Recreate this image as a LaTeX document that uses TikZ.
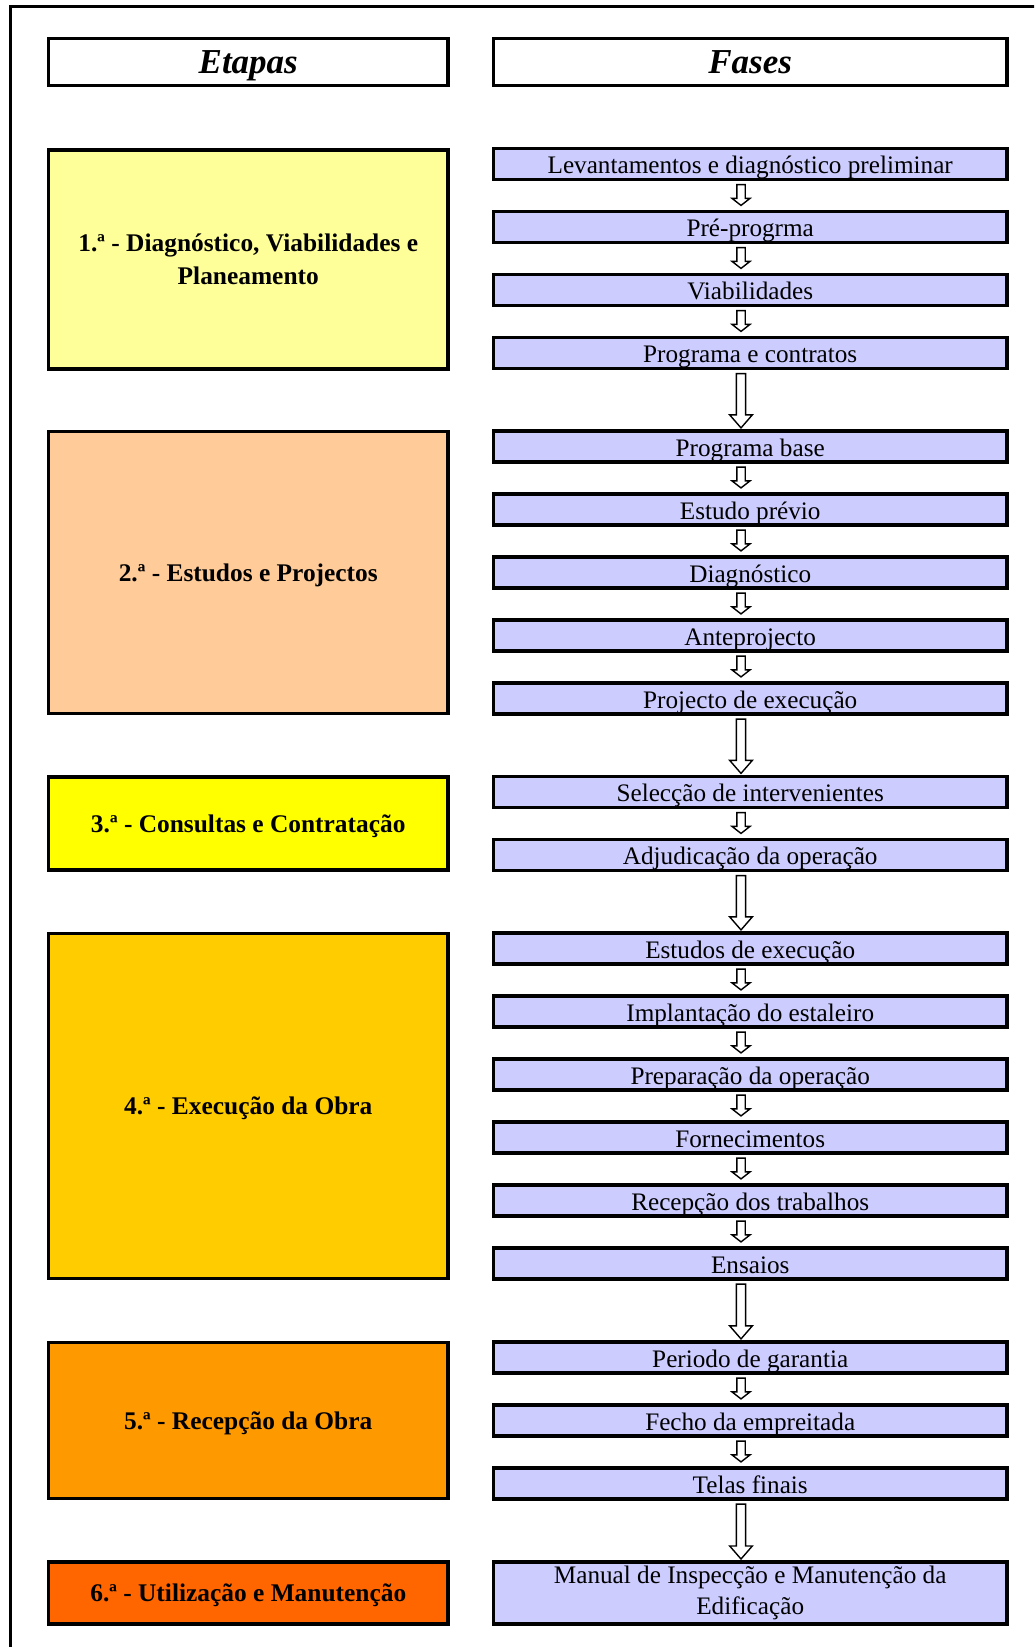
\documentclass[tikz,border=0pt]{standalone}
\usepackage{fontspec}
\setmainfont{Liberation Serif}
\usetikzlibrary{calc}

\definecolor{phasefill}{HTML}{CCCCFF}
\definecolor{stA}{HTML}{FFFF99}
\definecolor{stB}{HTML}{FFCC99}
\definecolor{stC}{HTML}{FFFF00}
\definecolor{stD}{HTML}{FFCC00}
\definecolor{stE}{HTML}{FF9900}
\definecolor{stF}{HTML}{FF6600}

\tikzset{
  phasebox/.style={draw, line width=1.75pt, fill=phasefill, minimum width=256.8pt,
    minimum height=15pt, inner sep=0pt, outer sep=0pt,
    font=\fontsize{12.6pt}{15.6pt}\selectfont, align=center},
  oneline/.style={text height=12.6pt, text depth=3pt},
  stagebox/.style={draw, line width=1.75pt, minimum width=199.75pt, inner sep=0pt,
    outer sep=0pt, font=\bfseries\fontsize{12.7pt}{16.3pt}\selectfont, align=center},
  stageline/.style={text height=11.5pt, text depth=2.8pt},
  headbox/.style={draw, line width=1.75pt, fill=white, minimum height=23.5pt,
    inner sep=0pt, outer sep=0pt, text height=15.6pt, text depth=4pt,
    font=\bfseries\itshape\fontsize{17.5pt}{20pt}\selectfont},
  hollow/.style={draw, line width=0.7pt, fill=white, line join=miter},
}

% hollow block arrow from the bottom of #1 to the top of #2
% #3 centre x, #4 top gap, #5 tip gap, #6 half shaft, #7 half head, #8 head length (px)
\newcommand\flowdown[8]{%
  \draw[hollow] let \p1=(#1.south), \p2=(#2.north) in
    ({(#3-#6)*0.5pt},{\y1-#4*0.5pt}) -- ({(#3+#6)*0.5pt},{\y1-#4*0.5pt})
    -- ({(#3+#6)*0.5pt},{\y2+(#5+#8)*0.5pt}) -- ({(#3+#7)*0.5pt},{\y2+(#5+#8)*0.5pt})
    -- ({#3*0.5pt},{\y2+#5*0.5pt}) -- ({(#3-#7)*0.5pt},{\y2+(#5+#8)*0.5pt})
    -- ({(#3-#6)*0.5pt},{\y2+(#5+#8)*0.5pt}) -- cycle;}
\newcommand\phasedown[2]{\flowdown{#1}{#2}{741}{5}{6}{4.2}{9}{7}}
\newcommand\stagedown[2]{\flowdown{#1}{#2}{741}{5}{3}{4.6}{11.3}{13}}

\begin{document}
\begin{tikzpicture}[x=0.5pt, y=-0.5pt]
\useasboundingbox (0,0) rectangle (1034,1647);
\clip (0,0) rectangle (1034,1647);
\draw[line width=1.5pt] (10,6.5) rectangle (1100,1720);

% column headers
\node[headbox, minimum width=199.75pt] (hdA) at (248.25,62) {Etapas};
\node[headbox, minimum width=256.8pt] (hdB) at (750.2,62) {Fases};

% stages
\node[stagebox, fill=stA, minimum height=109.5pt] (st1) at (248.25,259.5)
  {1.ª - Diagnóstico, Viabilidades e\\Planeamento};
\node[stagebox, stageline, fill=stB, minimum height=141pt] (st2) at (248.25,572.5)
  {2.ª - Estudos e Projectos};
\node[stagebox, stageline, fill=stC, minimum height=46.5pt] (st3) at (248.25,823.5)
  {3.ª - Consultas e Contratação};
\node[stagebox, stageline, fill=stD, minimum height=172.5pt] (st4) at (248.25,1106)
  {4.ª - Execução da Obra};
\node[stagebox, stageline, fill=stE, minimum height=78pt] (st5) at (248.25,1420.5)
  {5.ª - Recepção da Obra};
\node[stagebox, stageline, fill=stF, minimum height=31pt] (st6) at (248.25,1593)
  {6.ª - Utilização e Manutenção};

% phases
\node[phasebox, oneline] (p1) at (750.2,164) {Levantamentos e diagnóstico preliminar};
\node[phasebox, oneline] (p2) at (750.2,227) {Pré-progrma};
\node[phasebox, oneline] (p3) at (750.2,290) {Viabilidades};
\node[phasebox, oneline] (p4) at (750.2,353) {Programa e contratos};

\node[phasebox, oneline] (p5) at (750.2,446.5) {Programa base};
\node[phasebox, oneline] (p6) at (750.2,509.5) {Estudo prévio};
\node[phasebox, oneline] (p7) at (750.2,572.5) {Diagnóstico};
\node[phasebox, oneline] (p8) at (750.2,635.5) {Anteprojecto};
\node[phasebox, oneline] (p9) at (750.2,698.5) {Projecto de execução};

\node[phasebox, oneline] (p10) at (750.2,792) {Selecção de intervenientes};
\node[phasebox, oneline] (p11) at (750.2,855) {Adjudicação da operação};

\node[phasebox, oneline] (p12) at (750.2,948.5) {Estudos de execução};
\node[phasebox, oneline] (p13) at (750.2,1011.5) {Implantação do estaleiro};
\node[phasebox, oneline] (p14) at (750.2,1074.5) {Preparação da operação};
\node[phasebox, oneline] (p15) at (750.2,1137.5) {Fornecimentos};
\node[phasebox, oneline] (p16) at (750.2,1200.5) {Recepção dos trabalhos};
\node[phasebox, oneline] (p17) at (750.2,1263.5) {Ensaios};

\node[phasebox, oneline] (p18) at (750.2,1357.5) {Periodo de garantia};
\node[phasebox, oneline] (p19) at (750.2,1420.5) {Fecho da empreitada};
\node[phasebox, oneline] (p20) at (750.2,1483.5) {Telas finais};

\node[phasebox, minimum height=31pt] (p21) at (750.2,1593)
  {Manual de Inspecção e Manutenção da\\Edificação};

% arrows inside each stage
\phasedown{p1}{p2}
\phasedown{p2}{p3}
\phasedown{p3}{p4}
\phasedown{p5}{p6}
\phasedown{p6}{p7}
\phasedown{p7}{p8}
\phasedown{p8}{p9}
\phasedown{p10}{p11}
\phasedown{p12}{p13}
\phasedown{p13}{p14}
\phasedown{p14}{p15}
\phasedown{p15}{p16}
\phasedown{p16}{p17}
\phasedown{p18}{p19}
\phasedown{p19}{p20}

% arrows between stages
\stagedown{p4}{p5}
\stagedown{p9}{p10}
\stagedown{p11}{p12}
\stagedown{p17}{p18}
\stagedown{p20}{p21}
\end{tikzpicture}
\end{document}
